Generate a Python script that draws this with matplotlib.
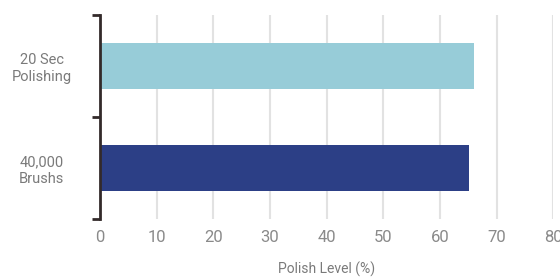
import matplotlib
matplotlib.use("Agg")
import matplotlib.pyplot as plt
from matplotlib import font_manager

categories = ["20 Sec\nPolishing", "40,000\nBrushs"]
values = [66, 65.2]
colors = ["#97CCD8", "#2C3F86"]
xticks = [0, 10, 20, 30, 40, 50, 60, 70, 80]
xlabel = "Polish Level (%)"

names = {f.name for f in font_manager.fontManager.ttflist}
fam = ["Liberation Sans Narrow", "Roboto", "DejaVu Sans"]
fam = [f for f in fam if f in names] + ["DejaVu Sans"]
plt.rcParams["font.family"] = fam

fig = plt.figure(figsize=(5.6, 2.8), dpi=100)
ax = fig.add_axes([100/560, 1-219/280, (553.3-100)/560, (219-15)/280])

ypos = list(range(len(categories)))
ax.barh(ypos, values, height=0.45, color=colors, zorder=3)
ax.set_ylim(len(categories)-0.5, -0.5)
ax.set_xlim(0, 80)

ax.set_xticks(xticks)
ax.set_xticklabels([str(t) for t in xticks])
ax.tick_params(axis="x", length=0, pad=8, labelsize=12, labelcolor="#8a8a8a")
ax.xaxis.grid(True, color="#e2e2e2", linewidth=1.5, zorder=0)

ax.set_yticks(ypos)
ax.set_yticklabels(categories, ha="center", multialignment="center")
ax.tick_params(axis="y", which="major", length=0, pad=42, labelsize=10.5, labelcolor="#7a7a7a")
ax.set_yticks([-0.5, 0.5, 1.5], minor=True)
ax.tick_params(axis="y", which="minor", length=6, width=2, color="#332a2a", direction="out")

for s in ["top", "right", "bottom"]:
    ax.spines[s].set_visible(False)
ax.spines["left"].set_color("#332a2a")
ax.spines["left"].set_linewidth(2)
ax.spines["left"].set_zorder(4)

ax.set_xlabel(xlabel, fontsize=10, color="#7a7a7a", labelpad=12)

fig.savefig("out.png", dpi=100, facecolor="white")
